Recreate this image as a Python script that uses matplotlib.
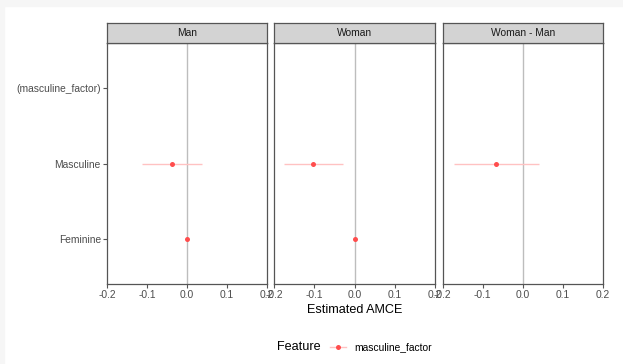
import matplotlib
matplotlib.use("Agg")
import matplotlib.pyplot as plt
from matplotlib.lines import Line2D
from matplotlib.patches import Rectangle

plt.rcParams['font.family'] = ['Liberation Sans', 'DejaVu Sans']

panels = ["Man", "Woman", "Woman - Man"]
levels = ["Feminine", "Masculine", "(masculine_factor)"]
# estimates for Feminine, Masculine per panel (None = no estimate)
estimates = {
    "Man": [0.0, -0.037],
    "Woman": [0.0, -0.102],
    "Woman - Man": [None, -0.066],
}
lower = {
    "Man": [0.0, -0.112],
    "Woman": [0.0, -0.175],
    "Woman - Man": [None, -0.172],
}
upper = {
    "Man": [0.0, 0.037],
    "Woman": [0.0, -0.029],
    "Woman - Man": [None, 0.041],
}
xticks = [-0.2, -0.1, 0.0, 0.1, 0.2]
xticklabels = ["-0.2", "-0.1", "0.0", "0.1", "0.2"]

W, H = 623, 364
fig = plt.figure(figsize=(W / 100, H / 100), dpi=100)
fig.patch.set_facecolor('white')
# light grey screenshot border
fig.patches.append(Rectangle((0, 0), 4 / W, 1, transform=fig.transFigure, color='#f6f6f6', zorder=-1))
fig.patches.append(Rectangle((0, 1 - 6 / H), 1, 6 / H, transform=fig.transFigure, color='#f6f6f6', zorder=-1))

lefts = [107, 274, 442.7]
widths = [160, 161, 160]
top_px, bot_px = 43, 284
strip_top = 23
dark = '#4d4d4d'
border = '#555555'
pt_col = '#ff4d4d'
ci_col = '#ffc2c2'

for i, name in enumerate(panels):
    ax = fig.add_axes([lefts[i] / W, 1 - bot_px / H, widths[i] / W, (bot_px - top_px) / H])
    ax.set_xlim(-0.2, 0.2)
    ax.set_ylim(0.4, 3.6)
    ax.axvline(0, color='#bdbdbd', lw=1.0, zorder=1)
    ys = [1, 2]
    for j, y in enumerate(ys):
        e = estimates[name][j]
        if e is None:
            continue
        ax.plot([lower[name][j], upper[name][j]], [y, y], color=ci_col, lw=1.0, zorder=2, solid_capstyle='butt')
        ax.plot([e], [y], 'o', color=pt_col, ms=3.6, mec='none', zorder=3)
    for s in ax.spines.values():
        s.set_color(border)
        s.set_linewidth(0.9)
    ax.set_xticks(xticks)
    ax.set_xticklabels(xticklabels)
    ax.tick_params(axis='x', length=3, width=0.8, color=border, labelsize=7.4, labelcolor=dark, pad=1.5)
    ax.set_yticks([1, 2, 3])
    if i == 0:
        ax.set_yticklabels(levels)
        ax.tick_params(axis='y', length=3, width=0.8, color=border, labelsize=7.4, labelcolor=dark, pad=1.5)
    else:
        ax.set_yticklabels([])
        ax.tick_params(axis='y', length=0)
    # strip
    sax = fig.add_axes([lefts[i] / W, 1 - top_px / H, widths[i] / W, (top_px - strip_top) / H])
    sax.set_facecolor('#d3d3d3')
    sax.set_xticks([]); sax.set_yticks([])
    for s in sax.spines.values():
        s.set_color(border)
        s.set_linewidth(0.9)
    sax.text(0.5, 0.5, name, ha='center', va='center', fontsize=7.4, color='#1a1a1a', transform=sax.transAxes)

fig.text(355 / W, 1 - 310 / H, "Estimated AMCE", ha='center', va='center', fontsize=9.1, color='black')

# legend
ly = 1 - 347 / H
fig.text(277 / W, ly, "Feature", ha='left', va='center', fontsize=9.1, color='black')
fig.add_artist(Line2D([330 / W, 346 / W], [ly, ly], transform=fig.transFigure, color=ci_col, lw=1.0))
fig.add_artist(Line2D([338 / W], [ly], transform=fig.transFigure, marker='o', color=pt_col, ms=3.6, mec='none', lw=0))
fig.text(354 / W, ly, "masculine_factor", ha='left', va='center', fontsize=7.4, color='black')

fig.savefig("out.png", dpi=100)
